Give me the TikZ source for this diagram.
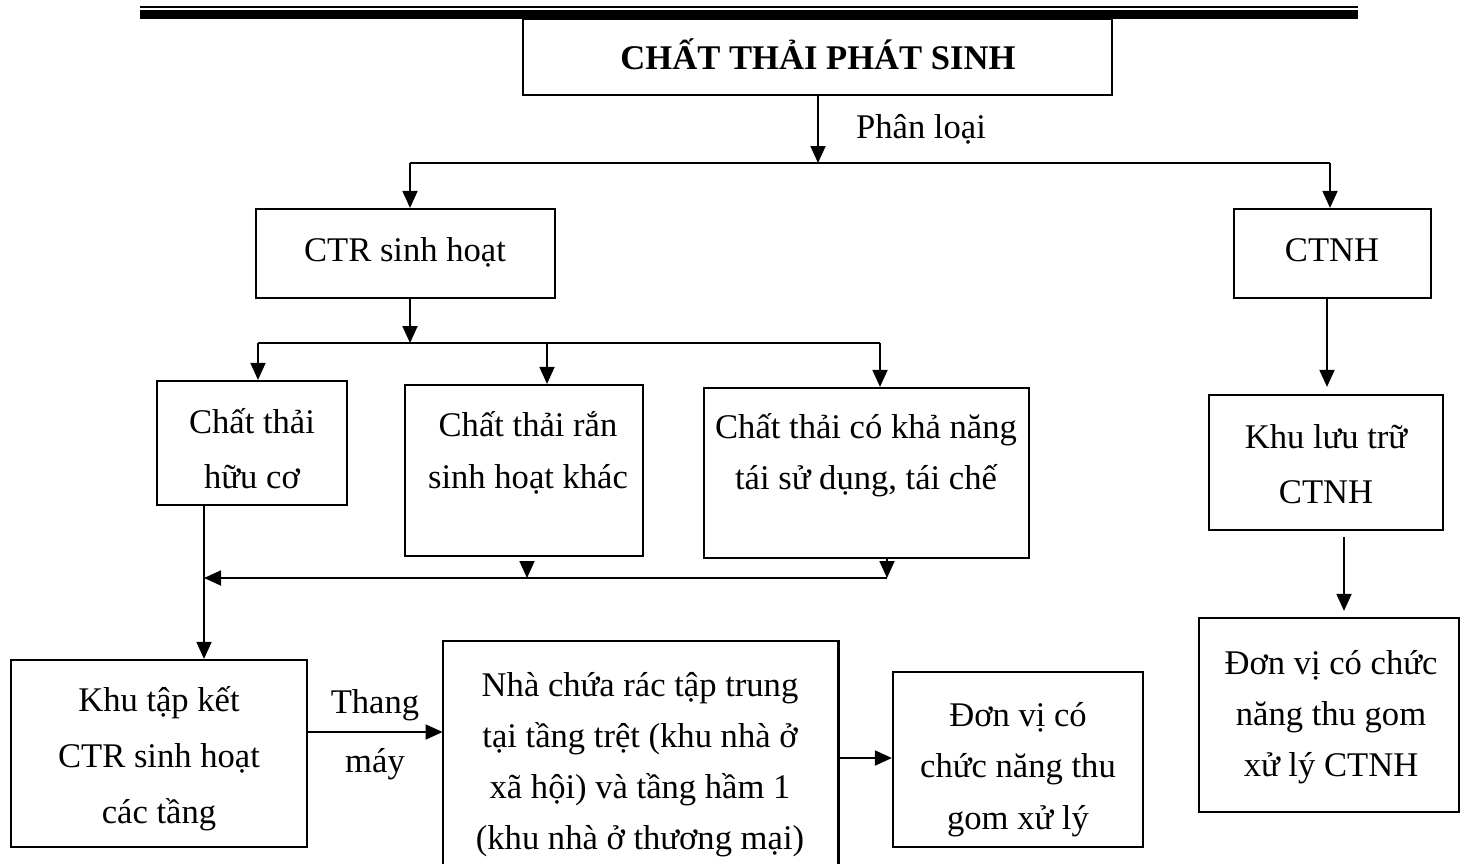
\documentclass[tikz,border=0pt]{standalone}
\usepackage{fontspec}
\setmainfont{Liberation Serif}
\usetikzlibrary{arrows.meta,fit}
\begin{document}
\begin{tikzpicture}[x=0.5pt,y=-0.5pt,
  box/.style={draw, line width=1.1pt, inner sep=0pt, fit={#1}},
  openbox/.style={inner sep=0pt, fit={#1}},
  conn/.style={line width=0.9pt},
  arr/.style={line width=0.9pt, -{Triangle[length=8.5pt,width=7.5pt]}},
  txt/.style={anchor=base, inner sep=0pt, font=\fontsize{17.3}{20}\selectfont},
  ttl/.style={anchor=base, inner sep=0pt, font=\fontsize{17.3}{20}\selectfont\bfseries}]
\useasboundingbox (0,0) rectangle (1461,863);

% double rule across the top
\draw[line width=1pt] (140,6.5) -- (1358,6.5);
\draw[line width=4.5pt] (140,14.5) -- (1358,14.5);

% boxes
\node[box={(523,19) (1112,95)}] (title) {};
\node[box={(256,209) (555,298)}] (ctr) {};
\node[box={(1234,209) (1431,298)}] (ctnh) {};
\node[box={(157,381) (347,505)}] (hc) {};
\node[box={(405,385) (643,556)}] (rk) {};
\node[box={(704,388) (1029,558)}] (tc) {};
\node[box={(1209,395) (1443,530)}] (klt) {};
\node[box={(11,660) (307,847)}] (ktk) {};
\node[openbox={(443,641) (838,873)}] (nha) {};
\draw[line width=1.1pt] (nha.south west) -- (nha.north west) -- (nha.north east) -- (nha.south east);
\node[box={(893,672) (1143,847)}] (dv) {};
\node[box={(1199,618) (1459,812)}] (dvc) {};

% texts
\node[ttl] (title-t) at (818,69) {CHẤT THẢI PHÁT SINH};
\node[txt] (pl) at (921,138) {Phân loại};
\node[txt] (ctr-t) at (405,261) {CTR sinh hoạt};
\node[txt] (ctnh-t) at (1332,261) {CTNH};
\foreach \t [count=\i] in {Chất thải, hữu cơ}
  \node[txt] (hc-\i) at (252,{433+55*(\i-1)}) {\t};
\foreach \t [count=\i] in {Chất thải rắn, sinh hoạt khác}
  \node[txt] (rk-\i) at (528,{436+52*(\i-1)}) {\t};
\foreach \t [count=\i] in {Chất thải có khả năng, {tái sử dụng, tái chế}}
  \node[txt] (tc-\i) at (866,{438+51*(\i-1)}) {\t};
\foreach \t [count=\i] in {Khu lưu trữ, CTNH}
  \node[txt] (klt-\i) at (1326,{448+55*(\i-1)}) {\t};
\foreach \t [count=\i] in {Khu tập kết, CTR sinh hoạt, các tầng}
  \node[txt] (ktk-\i) at (159,{711+56*(\i-1)}) {\t};
\node[txt] (thang) at (375,713) {Thang};
\node[txt] (may) at (375,772) {máy};
\foreach \t [count=\i] in {Nhà chứa rác tập trung, tại tầng trệt (khu nhà ở, xã hội) và tầng hầm 1, (khu nhà ở thương mại)}
  \node[txt] (nha-\i) at (640,{696+51*(\i-1)}) {\t};
\foreach \t [count=\i] in {Đơn vị có, chức năng thu, gom xử lý}
  \node[txt] (dv-\i) at (1018,{726+51.5*(\i-1)}) {\t};
\foreach \t [count=\i] in {Đơn vị có chức, năng thu gom, xử lý CTNH}
  \node[txt] (dvc-\i) at (1331,{674+51*(\i-1)}) {\t};

% first split
\coordinate (s1) at (818,163);
\coordinate (s1l) at (410,163);
\coordinate (s1r) at (1330,163);
\draw[arr] (title.south -| s1) -- (s1);
\draw[conn] (s1l) -- (s1r);
\draw[arr] (s1l) -- (s1l |- ctr.north);
\draw[arr] (s1r) -- (s1r |- ctnh.north);

% second split
\coordinate (s2) at (410,343);
\coordinate (s2l) at (258,343);
\coordinate (s2m) at (547,343);
\coordinate (s2r) at (880,343);
\draw[arr] (ctr.south -| s2) -- (s2);
\draw[conn] (s2l) -- (s2r);
\draw[arr] (s2l) -- (s2l |- hc.north);
\draw[arr] (s2m) -- (s2m |- rk.north);
\draw[arr] (s2r) -- (s2r |- tc.north);

% merge into the collection area
\coordinate (m1) at (204,578);
\coordinate (m2) at (527,578);
\coordinate (m3) at (887,578);
\draw[conn] (hc.south -| m1) -- (m1);
\draw[arr] (m1) -- (m1 |- ktk.north);
\draw[arr] (m3) -- (m1);
\draw[arr, shorten <=3.5pt] (rk.south -| m2) -- (m2);
\draw[arr] (tc.south -| m3) -- (m3);

% ground floor chain
\coordinate (e1) at (0,732);
\coordinate (e2) at (0,758);
\draw[arr] (ktk.east |- e1) -- (nha.west |- e1);
\draw[arr] (nha.east |- e2) -- (dv.west |- e2);

% hazardous waste chain
\coordinate (c1) at (1327,0);
\coordinate (c2) at (1344,0);
\draw[arr, shorten >=3.5pt] (ctnh.south -| c1) -- (c1 |- klt.north);
\draw[arr, shorten <=3pt, shorten >=3pt] (klt.south -| c2) -- (c2 |- dvc.north);
\end{tikzpicture}
\end{document}
